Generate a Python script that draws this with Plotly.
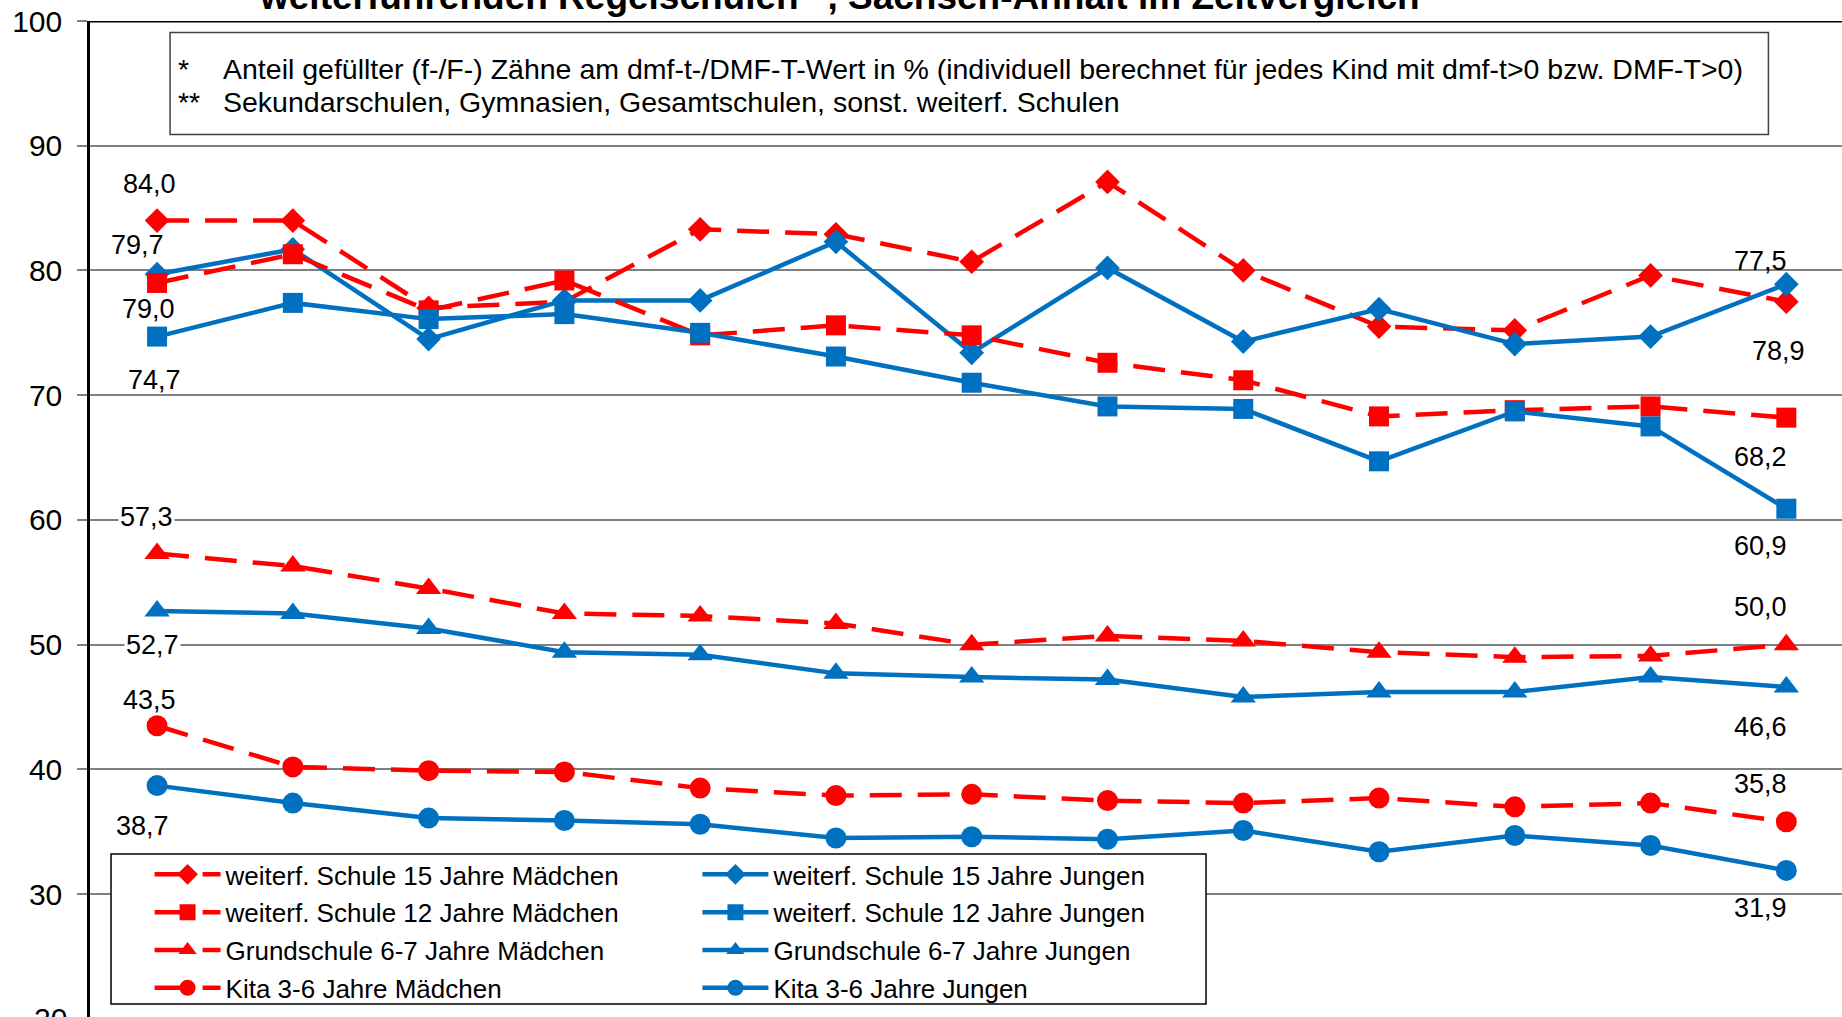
import plotly.graph_objects as go

# ---- data ----
survey_index = list(range(13))   # x-axis labels are cut off in the reference

m15 = [84.0, 84.0, 77.0, 77.5, 83.3, 82.9, 80.7, 87.1, 80.0, 75.5, 75.2, 79.6, 77.5]
j15 = [79.7, 81.7, 74.5, 77.6, 77.6, 82.3, 73.4, 80.2, 74.3, 76.9, 74.1, 74.7, 78.9]
m12 = [79.0, 81.3, 76.8, 79.2, 74.8, 75.6, 74.8, 72.6, 71.2, 68.3, 68.8, 69.1, 68.2]
j12 = [74.7, 77.4, 76.1, 76.5, 75.0, 73.1, 71.0, 69.1, 68.9, 64.7, 68.7, 67.5, 60.9]
mG = [57.3, 56.3, 54.5, 52.5, 52.3, 51.7, 50.0, 50.7, 50.3, 49.4, 49.0, 49.1, 50.0]
jG = [52.7, 52.5, 51.3, 49.4, 49.2, 47.7, 47.4, 47.2, 45.8, 46.2, 46.2, 47.4, 46.6]
mK = [43.5, 40.2, 39.9, 39.8, 38.5, 37.9, 38.0, 37.5, 37.3, 37.7, 37.0, 37.3, 35.8]
jK = [38.7, 37.3, 36.1, 35.9, 35.6, 34.5, 34.6, 34.4, 35.1, 33.4, 34.7, 33.9, 31.9]

names = {
    "m15": "weiterf. Schule 15 Jahre Mädchen",
    "j15": "weiterf. Schule 15 Jahre Jungen",
    "m12": "weiterf. Schule 12 Jahre Mädchen",
    "j12": "weiterf. Schule 12 Jahre Jungen",
    "mG": "Grundschule 6-7 Jahre Mädchen",
    "jG": "Grundschule 6-7 Jahre Jungen",
    "mK": "Kita 3-6 Jahre Mädchen",
    "jK": "Kita 3-6 Jahre Jungen",
}
y_ticks = [20, 30, 40, 50, 60, 70, 80, 90, 100]

title_line = "weiterführenden Regelschulen**, Sachsen-Anhalt im Zeitvergleich"
note1 = "Anteil gefüllter (f-/F-) Zähne am dmf-t-/DMF-T-Wert in % (individuell berechnet für jedes Kind mit dmf-t&gt;0 bzw. DMF-T&gt;0)"
note2 = "Sekundarschulen, Gymnasien, Gesamtschulen, sonst. weiterf. Schulen"

# ---- styles ----
RED = "#FF0000"
BLUE = "#0070C0"
FONT = "Liberation Sans, Arial, sans-serif"
FS_LEG = 26
FS_LAB = 27
FS_NOTE = 28.5
FS_TICK = 30

series = [
    ("m15", m15, RED, "diamond", 19, "legend"),
    ("j15", j15, BLUE, "diamond", 19, "legend2"),
    ("m12", m12, RED, "square", 20, "legend"),
    ("j12", j12, BLUE, "square", 20, "legend2"),
    ("mG", mG, RED, "triangle-up", 22, "legend"),
    ("jG", jG, BLUE, "triangle-up", 22, "legend2"),
    ("mK", mK, RED, "circle", 21, "legend"),
    ("jK", jK, BLUE, "circle", 21, "legend2"),
]
data_map = {k: v for k, v, *_ in series}

fig = go.Figure()
for key, vals, col, sym, size, leg in series:
    fig.add_trace(go.Scatter(
        x=survey_index, y=vals, mode="lines+markers", name=names[key],
        legend=leg, legendgroup=key,
        line=dict(color=col, width=4.5, dash="32px,16px" if col == RED else "solid"),
        marker=dict(symbol=sym, size=size, color=col),
    ))

# data labels: (series, point index, x shift px, y shift px)
label_pos = [
    ("m15", 0, -8, 37), ("j15", 0, -20, 29), ("m12", 0, -9, -26), ("j12", 0, -3, -43),
    ("mG", 0, -11, 37), ("jG", 0, -5, -34), ("mK", 0, -8, 26), ("jK", 0, -15, -40),
    ("m15", 12, -26, 41), ("j15", 12, -8, -67), ("m12", 12, -26, -39), ("j12", 12, -26, -37),
    ("mG", 12, -26, 38), ("jG", 12, -26, -40), ("mK", 12, -26, 38), ("jK", 12, -26, -38),
]
ann = []
for key, i, dx, dy in label_pos:
    v = data_map[key][i]
    ann.append(dict(x=survey_index[i], y=v, xref="x", yref="y",
                    text=f"{v:.1f}".replace(".", ","), showarrow=False,
                    xshift=dx, yshift=dy, font=dict(family=FONT, size=FS_LAB, color="black"),
                    bgcolor="white" if i == 0 and key in ("mG", "jG") else None))

# footnote box texts
note_font = dict(family=FONT, size=FS_NOTE, color="black")
ann += [
    dict(x=0.049, y=96.15, xref="paper", yref="y", text="*", showarrow=False,
         xanchor="left", yanchor="middle", font=note_font),
    dict(x=0.0745, y=96.15, xref="paper", yref="y", text=note1, showarrow=False,
         xanchor="left", yanchor="middle", font=note_font),
    dict(x=0.049, y=93.5, xref="paper", yref="y", text="**", showarrow=False,
         xanchor="left", yanchor="middle", font=note_font),
    dict(x=0.0745, y=93.5, xref="paper", yref="y", text=note2, showarrow=False,
         xanchor="left", yanchor="middle", font=note_font),
    # title (only its last line is visible at the top edge)
    dict(x=0.428, y=1, xref="paper", yref="paper", text="<b>" + title_line + "</b>",
         showarrow=False, xanchor="center", yanchor="bottom", yshift=2,
         font=dict(family=FONT, size=37, color="black")),
    # bottom tick label (partly cut off by the edge)
    dict(x=0, y=-0.002, xref="paper", yref="paper", text=str(y_ticks[0]), showarrow=False,
         xanchor="right", yanchor="middle", xshift=-21,
         font=dict(family=FONT, size=FS_TICK, color="black")),
]

shapes = [
    # thick top line at 100
    dict(type="line", xref="paper", yref="y", x0=0, x1=1, y0=100, y1=100,
         line=dict(color="black", width=3), layer="above"),
    # footnote box
    dict(type="rect", xref="paper", yref="y", x0=0.0457, x1=0.958, y0=90.9, y1=99.08,
         fillcolor="white", line=dict(color="#404040", width=1.5), layer="above"),
    # legend box
    dict(type="rect", xref="paper", yref="paper", x0=0.012, x1=0.637, y0=0.013, y1=0.1637,
         fillcolor="white", line=dict(color="black", width=1.5), layer="above"),
]

leg_common = dict(font=dict(family=FONT, size=FS_LEG, color="black"), bgcolor="rgba(0,0,0,0)",
                  borderwidth=0, itemwidth=66, tracegroupgap=1, traceorder="grouped",
                  yanchor="top", xanchor="left", y=0.1667)

fig.update_layout(
    width=1842, height=1017,
    margin=dict(l=90, r=0, t=21, b=0),
    paper_bgcolor="white", plot_bgcolor="white",
    showlegend=True,
    legend=dict(x=0.034, **leg_common),
    legend2=dict(x=0.3467, **leg_common),
    annotations=ann, shapes=shapes,
    xaxis=dict(range=[-0.494, 12.41], showticklabels=False, showgrid=False,
               zeroline=False, showline=False, ticks=""),
    yaxis=dict(range=[20.15, 100], tickvals=y_ticks[1:], showgrid=True,
               gridcolor="#808080", gridwidth=1.5, zeroline=False,
               showline=True, linecolor="black", linewidth=2.5,
               ticks="outside", ticklen=10, tickcolor="#808080", tickwidth=1.5,
               ticklabelstandoff=9,
               tickfont=dict(family=FONT, size=FS_TICK, color="black")),
)

fig.write_html("out.html", config={"displayModeBar": False},
               post_script="document.body.style.margin='0';")
